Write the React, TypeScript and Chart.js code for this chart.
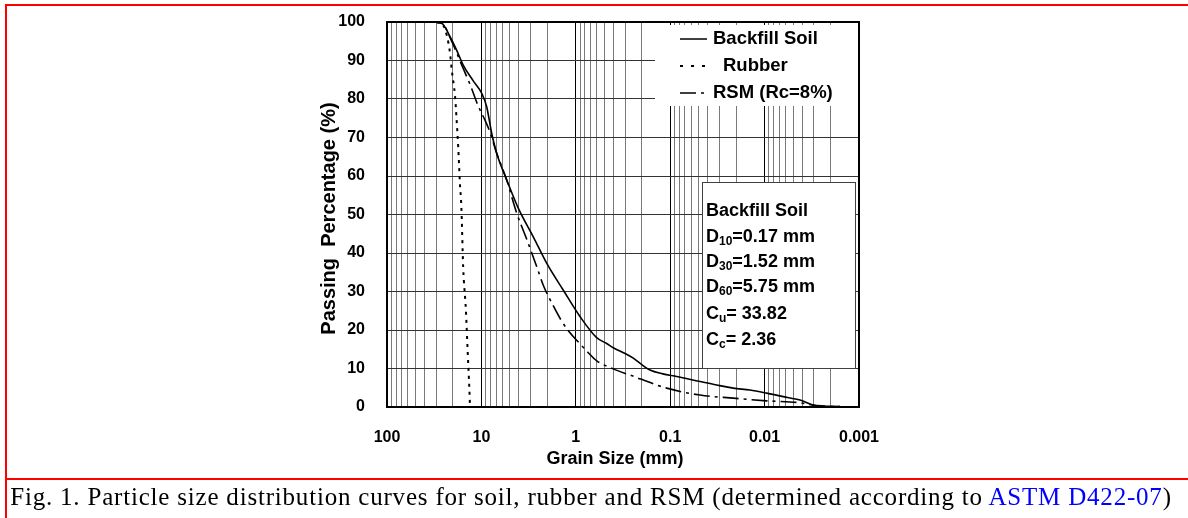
import React, { useEffect, useRef } from 'react';
import { Chart, registerables } from 'chart.js';

Chart.register(...registerables);

// ---- data (grain size in mm, passing percentage in %) ----
const SOIL_SIZE = [37.7, 26.4, 21.5, 18.3, 15.6, 12.2, 9.93, 8.79, 7.78, 6.89, 5.4, 4.06, 2.82, 2.03, 1.36, 0.903, 0.601, 0.471, 0.401, 0.3, 0.246, 0.2, 0.164, 0.12, 0.0853, 0.0483, 0.0322, 0.0215, 0.0143, 0.0095, 0.00634, 0.00422, 0.00305, 0.00159];
const SOIL_PASS = [100, 99.7, 96.2, 92.7, 88.8, 84.7, 81.5, 78.0, 71.1, 65.9, 59.0, 51.6, 44.2, 37.3, 30.4, 23.5, 18.0, 16.5, 15.4, 13.9, 12.7, 11.0, 9.6, 8.6, 7.9, 6.6, 5.7, 4.9, 4.4, 3.6, 2.7, 1.8, 0.5, 0.1];

const RUBBER_SIZE = [30, 25.5, 23.3, 21.5, 20.6, 19.0, 18.3, 17.6, 16.9, 16.3, 15.6, 14.6, 14.0, 13.4, 13.2];
const RUBBER_PASS = [100, 99.2, 96.6, 91.9, 87.5, 80.6, 74.5, 67.6, 58.2, 51.9, 36.4, 25.2, 14.8, 4.4, 0];

const RSM_SIZE = [37.7, 26.4, 20.5, 15.7, 13.0, 10.9, 9.16, 8.11, 6.9, 5.4, 4.23, 3.29, 2.59, 2.2, 1.75, 1.45, 1.2, 0.95, 0.75, 0.6, 0.4, 0.267, 0.109, 0.0483, 0.0215, 0.0095, 0.00422, 0.00281, 0.00159];
const RSM_PASS = [100, 99.7, 94.8, 88.1, 83.4, 78.4, 74.5, 71.4, 66.0, 59.0, 50.4, 43.4, 36.4, 31.5, 26.5, 22.8, 19.8, 17.0, 14.3, 12.0, 9.9, 8.3, 4.9, 3.1, 2.3, 1.6, 1.1, 0.3, 0.1];

const X_MAJOR = [100, 10, 1, 0.1, 0.01, 0.001];
const X_MAJOR_LABELS = ['100', '10', '1', '0.1', '0.01', '0.001'];
const X_DECADES = [0.001, 0.01, 0.1, 1, 10];
const X_MULTIPLIERS = [1, 2, 3, 4, 5, 6, 7, 8, 9];
const Y_TICKS = [0, 10, 20, 30, 40, 50, 60, 70, 80, 90, 100];

const SERIES_NAMES = ['Backfill Soil', 'Rubber', 'RSM (Rc=8%)'];
const X_TITLE = 'Grain Size (mm)';
const Y_TITLE = 'Passing  Percentage (%)';
const BOX_TITLE = 'Backfill Soil';
const BOX_LINES: [string, string, string][] = [
  ['D', '10', '=0.17 mm'],
  ['D', '30', '=1.52 mm'],
  ['D', '60', '=5.75 mm'],
  ['C', 'u', '= 33.82'],
  ['C', 'c', '= 2.36'],
];
const CAPTION_MAIN = 'Fig. 1. Particle size distribution curves for soil, rubber and RSM (determined according to ';
const CAPTION_LINK = 'ASTM D422-07';
const CAPTION_END = ')';

const FONT = '"Liberation Sans", Arial, sans-serif';

const pts = (xs: number[], ys: number[]) => xs.map((x, i) => ({ x, y: ys[i] }));
const isMajor = (v: number) => X_MAJOR.some((m) => Math.abs(m - v) / m < 1e-6);

const annotations = {
  id: 'annotations',
  beforeDatasetsDraw(chart: any) {
    const { ctx } = chart;
    const { left, top, right } = chart.chartArea;
    ctx.save();
    ctx.fillStyle = '#ffffff';
    // legend background
    ctx.fillRect(right - 204, top + 3, 203, 81);
    // stats box background
    ctx.fillRect(left + 315, top + 160, 153, 186);
    ctx.restore();
  },
  afterDatasetsDraw(chart: any) {
    const { ctx } = chart;
    const { left, top, right, bottom } = chart.chartArea;
    ctx.save();
    // plot frame
    ctx.strokeStyle = '#000';
    ctx.lineWidth = 2;
    ctx.strokeRect(left, top, right - left, bottom - top);

    // stats box
    ctx.lineWidth = 1;
    ctx.strokeStyle = '#404040';
    ctx.strokeRect(left + 315.5, top + 160.5, 153, 186);
    ctx.fillStyle = '#000';
    ctx.textBaseline = 'middle';
    ctx.textAlign = 'left';
    const bx = left + 319;
    const big = `bold 18px ${FONT}`;
    ctx.font = big;
    ctx.fillText(BOX_TITLE, bx, top + 189);
    const rowY = [215, 240, 265, 292, 318];
    BOX_LINES.forEach(([a, sub, rest], i) => {
      const y = top + rowY[i];
      ctx.font = big;
      ctx.fillText(a, bx, y);
      let x = bx + ctx.measureText(a).width;
      ctx.font = `bold 12px ${FONT}`;
      ctx.fillText(sub, x, y + 5);
      x += ctx.measureText(sub).width;
      ctx.font = big;
      ctx.fillText(rest, x, y);
    });

    // legend
    const lx0 = right - 179;
    const lx1 = right - 152;
    const rows = [top + 17, top + 44, top + 71];
    ctx.strokeStyle = '#000';
    ctx.lineWidth = 1.5;
    ctx.setLineDash([]);
    ctx.beginPath();
    ctx.moveTo(lx0, rows[0]);
    ctx.lineTo(lx1, rows[0]);
    ctx.stroke();
    ctx.lineWidth = 2;
    ctx.setLineDash([3, 8]);
    ctx.beginPath();
    ctx.moveTo(lx0, rows[1]);
    ctx.lineTo(lx1, rows[1]);
    ctx.stroke();
    ctx.lineWidth = 1.5;
    ctx.setLineDash([16, 5, 3, 5]);
    ctx.beginPath();
    ctx.moveTo(lx0, rows[2]);
    ctx.lineTo(lx1, rows[2]);
    ctx.stroke();
    ctx.setLineDash([]);
    ctx.font = `bold 18.5px ${FONT}`;
    ctx.fillText(SERIES_NAMES[0], right - 146, rows[0]);
    ctx.fillText(SERIES_NAMES[1], right - 136, rows[1]);
    ctx.fillText(SERIES_NAMES[2], right - 146, rows[2]);

    // axis titles
    ctx.font = `bold 18px ${FONT}`;
    ctx.textAlign = 'center';
    ctx.fillText(X_TITLE, (left + right) / 2 - 8, bottom + 52);
    ctx.font = `bold 20px ${FONT}`;
    ctx.translate(left - 58, (top + bottom) / 2 + 4);
    ctx.rotate(-Math.PI / 2);
    ctx.fillText(Y_TITLE, 0, 0);
    ctx.restore();
  },
};

export default function App() {
  const ref = useRef<HTMLCanvasElement>(null);

  useEffect(() => {
    const canvas = ref.current;
    if (!canvas) return;
    const xGrid: number[] = [];
    X_DECADES.forEach((d) => X_MULTIPLIERS.forEach((m) => xGrid.push(+(d * m).toPrecision(6))));
    xGrid.push(100);

    const chart = new Chart(canvas, {
      type: 'scatter',
      data: {
        datasets: [
          {
            label: SERIES_NAMES[0],
            data: pts(SOIL_SIZE, SOIL_PASS),
            showLine: true,
            borderColor: '#000',
            borderWidth: 1.6,
            pointRadius: 0,
            cubicInterpolationMode: 'monotone',
          },
          {
            label: SERIES_NAMES[1],
            data: pts(RUBBER_SIZE, RUBBER_PASS),
            showLine: true,
            borderColor: '#000',
            borderWidth: 2,
            borderDash: [3, 5],
            pointRadius: 0,
            cubicInterpolationMode: 'monotone',
          },
          {
            label: SERIES_NAMES[2],
            data: pts(RSM_SIZE, RSM_PASS),
            showLine: true,
            borderColor: '#000',
            borderWidth: 1.6,
            borderDash: [16, 5, 3, 5],
            pointRadius: 0,
            cubicInterpolationMode: 'monotone',
          },
        ],
      },
      options: {
        responsive: false,
        animation: false,
        devicePixelRatio: 1,
        layout: { padding: { left: 0, top: 22, right: 329, bottom: 11 } },
        plugins: { legend: { display: false }, tooltip: { enabled: false } },
        scales: {
          x: {
            type: 'logarithmic',
            reverse: true,
            min: 0.001,
            max: 100,
            afterBuildTicks: (s: any) => {
              s.ticks = xGrid.map((v) => ({ value: v, major: isMajor(v) }));
            },
            afterFit: (s: any) => {
              s.height = 60;
              s.paddingLeft = 0;
              s.paddingRight = 0;
            },
            grid: {
              color: (c: any) => (c.tick && isMajor(c.tick.value) ? '#000' : '#7a7a7a'),
              lineWidth: 1,
              drawTicks: false,
            },
            border: { display: false },
            ticks: {
              autoSkip: false,
              maxRotation: 0,
              padding: 21,
              color: '#000',
              font: { family: FONT, size: 16, weight: 'bold' },
              callback: (v: any) => {
                const i = X_MAJOR.findIndex((m) => Math.abs(m - Number(v)) / m < 1e-6);
                return i >= 0 ? X_MAJOR_LABELS[i] : '';
              },
            },
          },
          y: {
            min: 0,
            max: 100,
            afterBuildTicks: (s: any) => {
              s.ticks = Y_TICKS.map((v) => ({ value: v }));
            },
            afterFit: (s: any) => {
              s.width = 387;
              s.paddingTop = 0;
              s.paddingBottom = 0;
            },
            grid: { color: '#333', lineWidth: 1, drawTicks: false },
            border: { display: false },
            ticks: {
              padding: 22,
              color: '#000',
              font: { family: FONT, size: 16, weight: 'bold' },
            },
          },
        },
      } as any,
      plugins: [annotations],
    });
    return () => chart.destroy();
  }, []);

  return (
    <div style={{ position: 'fixed', left: 0, top: 0, width: 1188, height: 518, background: '#fff', overflow: 'hidden' }}>
      <canvas ref={ref} width={1188} height={478} style={{ position: 'absolute', left: 0, top: 0, width: 1188, height: 478 }} />
      <div style={{ position: 'absolute', left: 5, top: 4, width: 1183, height: 2, background: '#ff0000' }} />
      <div style={{ position: 'absolute', left: 5, top: 4, width: 2, height: 514, background: '#ff0000' }} />
      <div style={{ position: 'absolute', left: 7, top: 478, width: 1181, height: 2, background: '#ff0000' }} />
      <div
        style={{
          position: 'absolute',
          left: 0,
          top: 483,
          width: 1182,
          textAlign: 'center',
          whiteSpace: 'nowrap',
          fontFamily: '"Liberation Serif", "Times New Roman", serif',
          fontSize: 25,
          letterSpacing: '0.8px',
          lineHeight: '28px',
          color: '#000',
        }}
      >
        {CAPTION_MAIN}
        <span style={{ color: '#0000ff' }}>{CAPTION_LINK}</span>
        {CAPTION_END}
      </div>
    </div>
  );
}
